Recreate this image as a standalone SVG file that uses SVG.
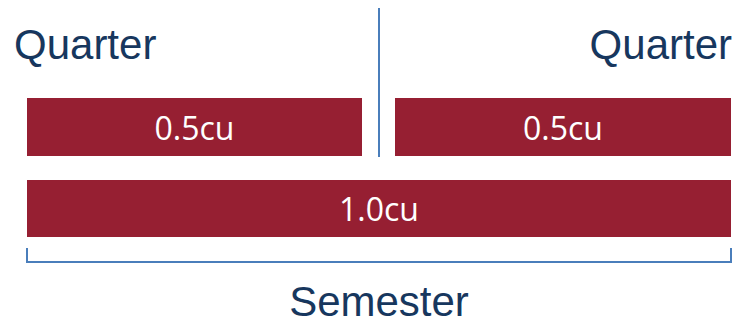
<svg xmlns="http://www.w3.org/2000/svg" width="739" height="325" viewBox="0 0 739 325">
<style>
.lbl{font-family:"Liberation Sans",Arial,sans-serif;font-size:42px;fill:#17375E}
.box{fill:#961F32}
.bt{font-family:"Open Sans","DejaVu Sans",sans-serif;font-size:32px;fill:#FFFFFF;text-anchor:middle}
.ln{stroke:#4A7EBB;stroke-width:2;fill:none}
</style>
<rect width="739" height="325" fill="#FFFFFF"/>
<g id="connectors">
<line class="ln" x1="379" y1="8" x2="379" y2="157"/>
<polyline class="ln" points="27,248 27,262 731,262 731,248"/>
</g>
<g id="quarter-left"><text class="lbl" x="14" y="59">Quarter</text></g>
<g id="quarter-right"><text class="lbl" x="732" y="59" text-anchor="end">Quarter</text></g>
<g id="box-q1"><rect class="box" x="27" y="98" width="335" height="58"/><text class="bt" x="194.5" y="140">0.5cu</text></g>
<g id="box-q2"><rect class="box" x="395" y="98" width="336" height="58"/><text class="bt" x="563" y="140">0.5cu</text></g>
<g id="box-sem"><rect class="box" x="27" y="180" width="704" height="57"/><text class="bt" x="379" y="221">1.0cu</text></g>
<g id="semester"><text class="lbl" x="379" y="316" text-anchor="middle">Semester</text></g>
</svg>
